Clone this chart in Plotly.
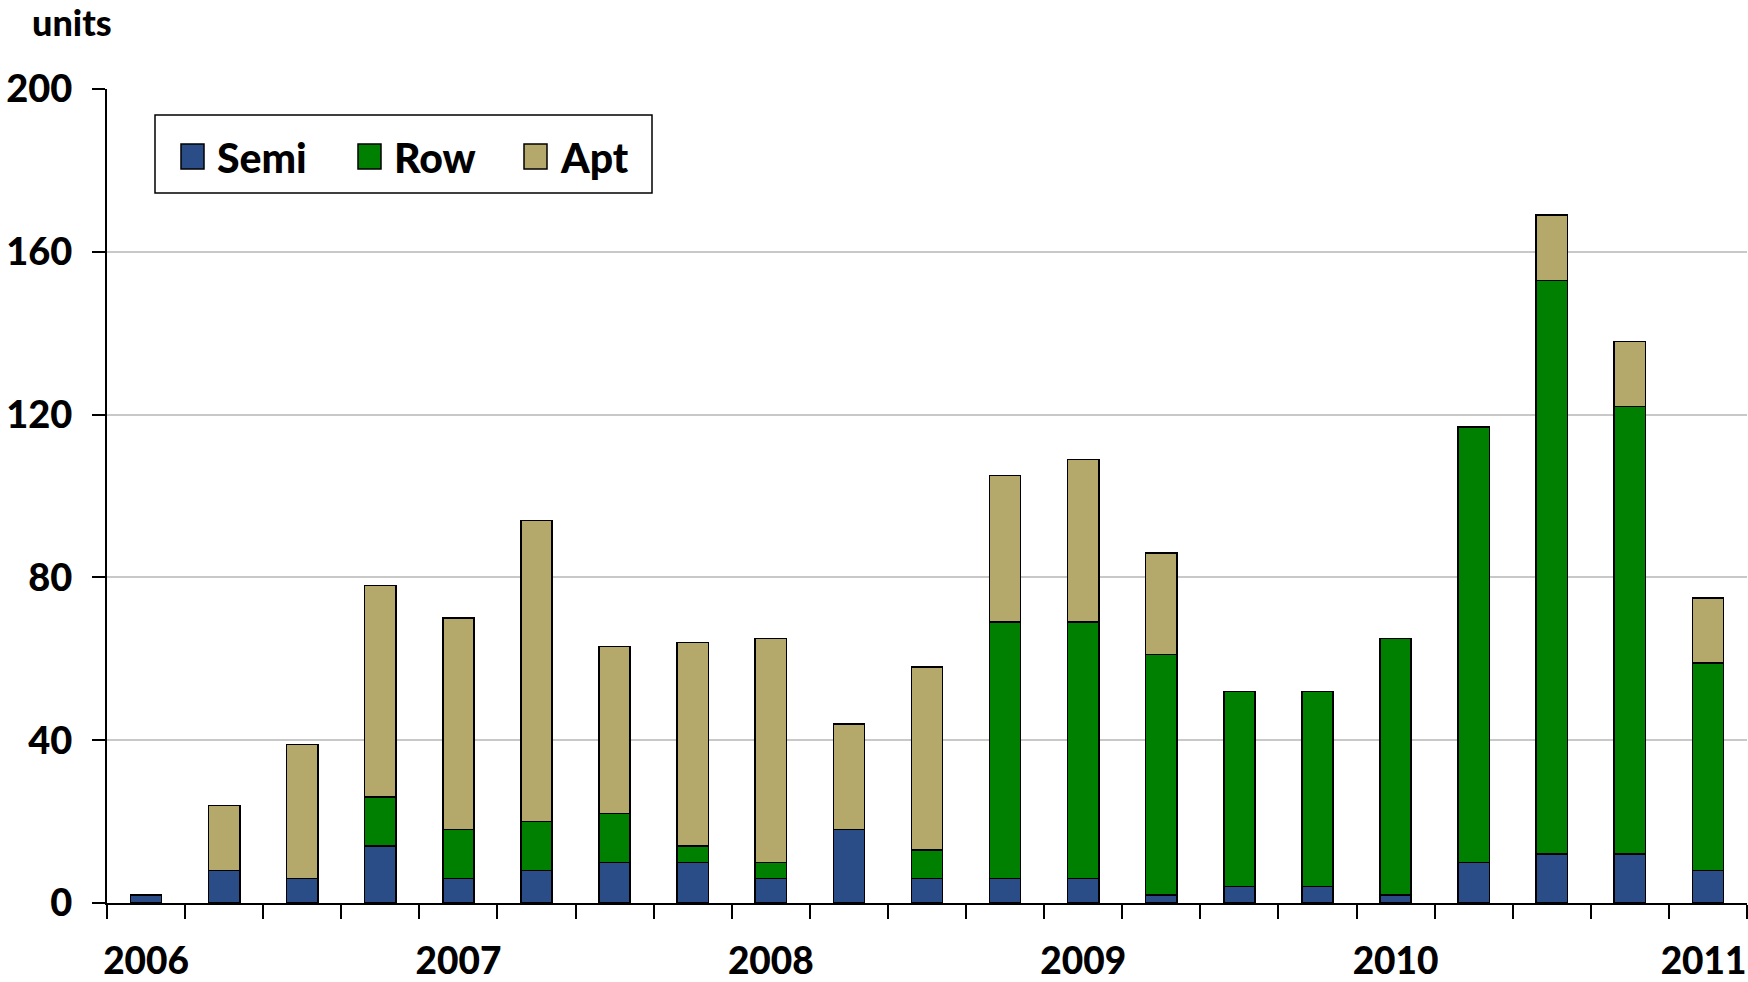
import plotly.graph_objects as go

quarters = list(range(21))
year_labels = ["2006", "2007", "2008", "2009", "2010", "2011"]
year_positions = [0, 4, 8, 12, 16, 20]

semi = [2, 8, 6, 14, 6, 8, 10, 10, 6, 18, 6, 6, 6, 2, 4, 4, 2, 10, 12, 12, 8]
row = [0, 0, 0, 12, 12, 12, 12, 4, 4, 0, 7, 63, 63, 59, 48, 48, 63, 107, 141, 110, 51]
apt = [0, 16, 33, 52, 52, 74, 41, 50, 55, 26, 45, 36, 40, 25, 0, 0, 0, 0, 16, 16, 16]

series_names = ["Semi", "Row", "Apt"]
FONT = "Lato"
colors = {"Semi": "#2A4D87", "Row": "#008000", "Apt": "#B5A86B"}

W, H = 1748, 982
L, R, T, B = 107, 1, 89, 79
PW, PH = W - L - R, H - T - B


def px(x):
    return (x - L) / PW


def py(y):
    return (H - B - y) / PH


fig = go.Figure()
for name, vals in zip(series_names, [semi, row, apt]):
    fig.add_trace(go.Bar(
        x=quarters, y=vals, name=name, showlegend=False,
        marker=dict(color=colors[name], line=dict(color="black", width=1.5)),
        width=0.4,
    ))

boundaries = [i - 0.5 for i in range(22)]

# keep the last year label inside the page edge (trailing no-break space)
tick_text = year_labels[:-1] + [year_labels[-1] + "\u00a0"]

# manual legend (box, swatches, labels)
shapes = [dict(type="rect", xref="paper", yref="paper",
               x0=px(155), x1=px(652), y0=py(193), y1=py(115),
               line=dict(color="black", width=1.5), fillcolor="white", layer="above")]
annotations = []
sw_x = [181, 358, 524]
for name, sx in zip(series_names, sw_x):
    shapes.append(dict(type="rect", xref="paper", yref="paper",
                       x0=px(sx), x1=px(sx + 23), y0=py(169), y1=py(144),
                       line=dict(color="black", width=1.5),
                       fillcolor=colors[name], layer="above"))
    annotations.append(dict(text=name, xref="paper", yref="paper",
                            x=px(sx + 34), y=py(157), xanchor="left", yanchor="middle",
                            showarrow=False,
                            font=dict(family=FONT, size=41, color="black", weight=900)))

annotations.append(dict(
    text="units", xref="paper", yref="paper", x=px(30), y=py(22),
    xanchor="left", yanchor="middle", showarrow=False,
    font=dict(family=FONT, size=36, color="black", weight=900),
))

fig.update_layout(
    barmode="stack",
    width=W, height=H,
    plot_bgcolor="white", paper_bgcolor="white",
    margin=dict(l=L, r=R, t=T, b=B, autoexpand=False),
    font=dict(family=FONT, size=38, color="black", weight=900),
    showlegend=False,
    xaxis=dict(
        range=[-0.5, 20.5], automargin=False,
        tickmode="array", tickvals=year_positions, ticktext=tick_text,
        ticks="", showgrid=False, zeroline=False,
        showline=True, linecolor="black", linewidth=2,
        tickfont=dict(family=FONT, size=37, color="black", weight=900),
        ticklabelstandoff=25, ticklabeloverflow="allow",
        minor=dict(tickmode="array", tickvals=boundaries, ticks="outside",
                   ticklen=14, tickwidth=2, tickcolor="black", showgrid=False),
    ),
    yaxis=dict(
        range=[0, 200], automargin=False,
        tickmode="array", tickvals=[0, 40, 80, 120, 160, 200],
        ticks="outside", ticklen=13, tickwidth=2, tickcolor="black",
        showline=True, linecolor="black", linewidth=2,
        showgrid=True, gridcolor="#C8C8C8", gridwidth=2,
        zeroline=False,
        tickfont=dict(family=FONT, size=38, color="black", weight=900),
        ticklabelstandoff=12, ticklabeloverflow="allow",
    ),
    shapes=shapes,
    annotations=annotations,
)

fig.write_html(
    "out.html",
    config={"displayModeBar": False},
    post_script="document.body.style.margin='0';document.body.style.overflow='hidden';",
)
